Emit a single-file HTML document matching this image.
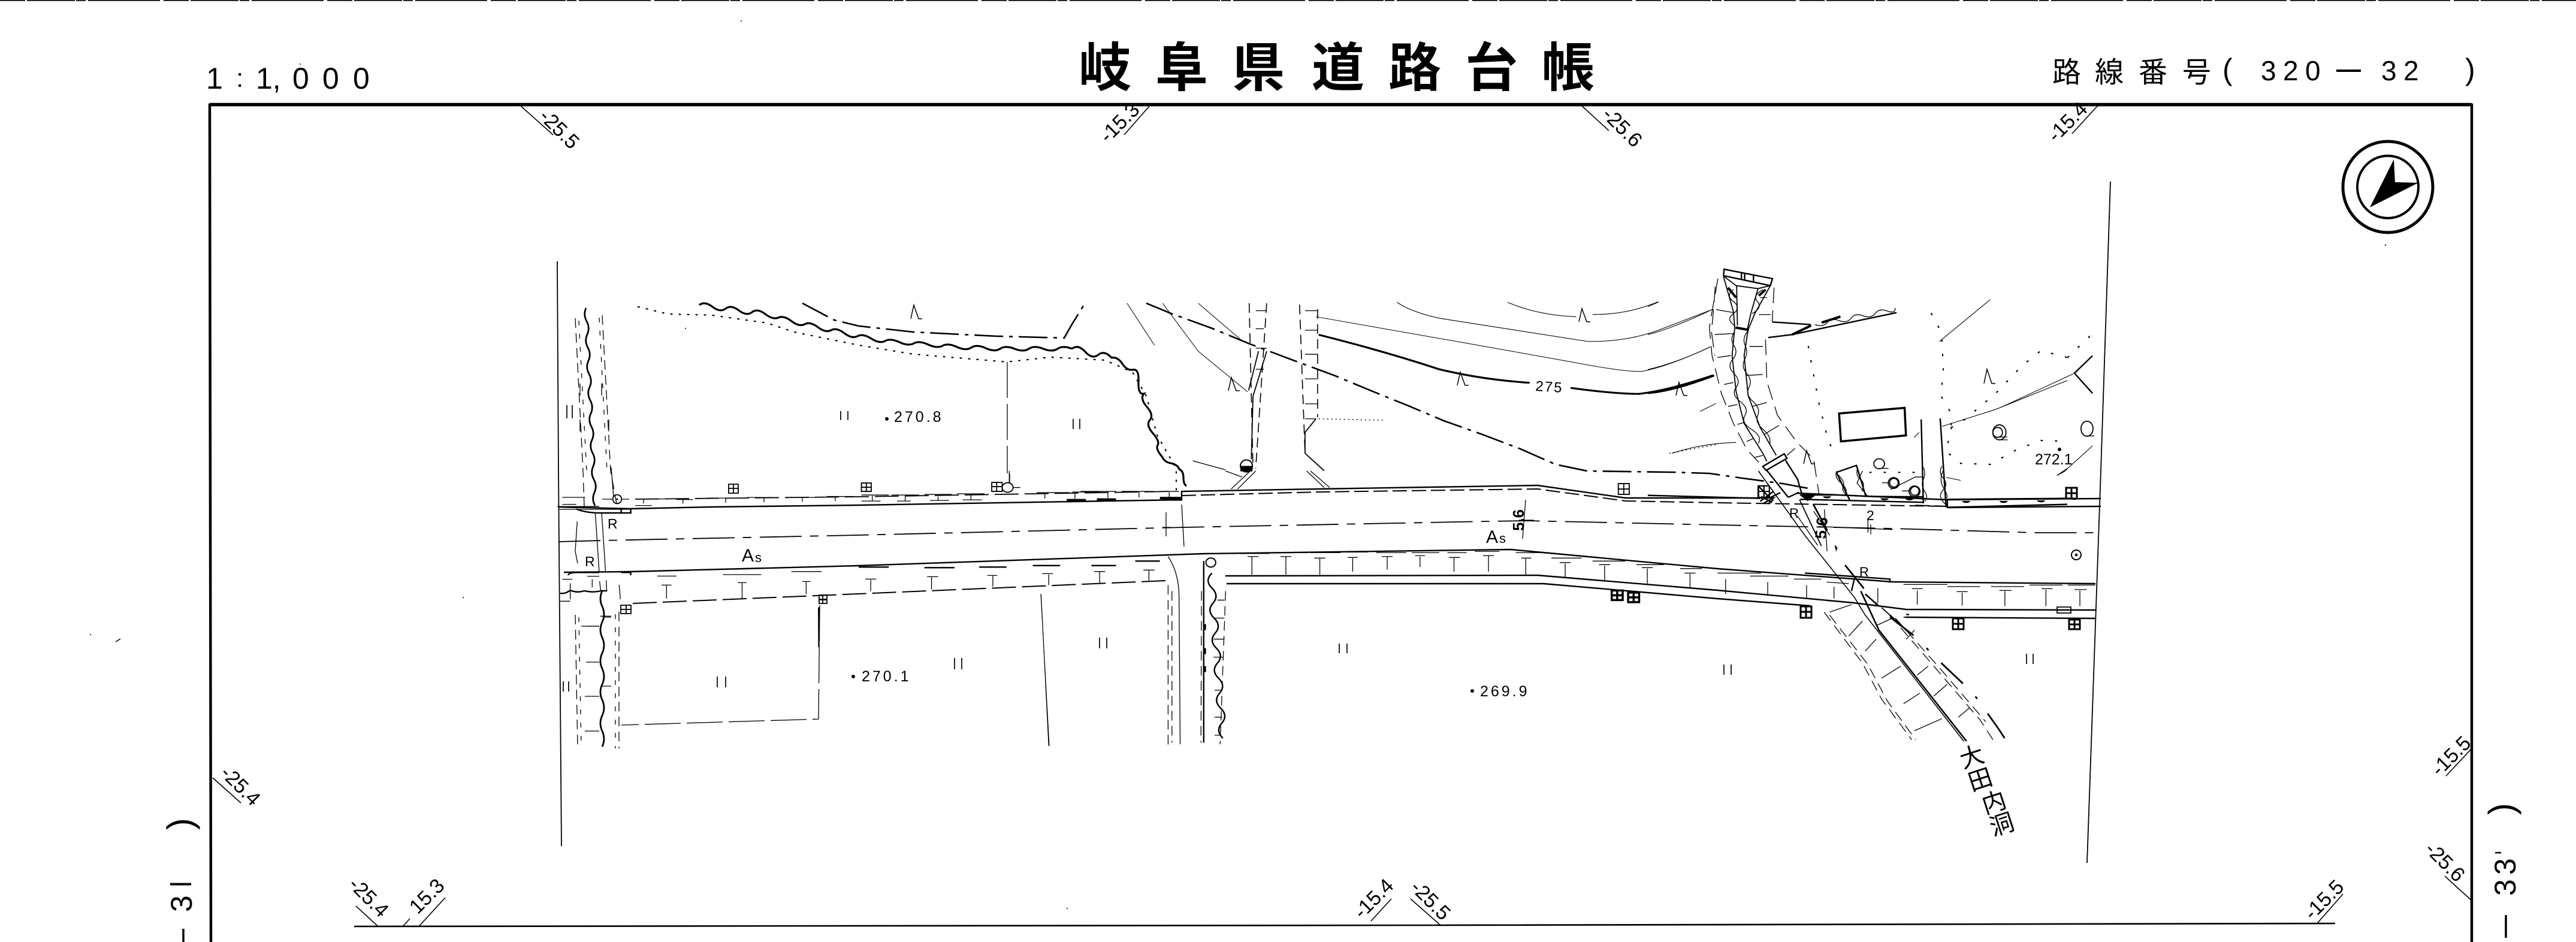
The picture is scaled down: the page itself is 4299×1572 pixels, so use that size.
<!DOCTYPE html>
<html lang="ja"><head><meta charset="utf-8"><title>岐阜県道路台帳</title>
<style>
html,body{margin:0;padding:0;background:#fff}
svg{display:block}
path,line,polyline,polygon,rect,ellipse,circle{vector-effect:non-scaling-stroke}
.t{stroke-width:1.3}.m{stroke-width:2.4}.b{stroke-width:4}
.dd{stroke-width:2.6;stroke-dasharray:48 10 6 10}
.ld{stroke-width:1.8;stroke-dasharray:70 14 14 14}
.ds{stroke-width:1.3;stroke-dasharray:16 9}
.dot{stroke-width:2.6;stroke-dasharray:2 13;stroke-linecap:round}
.dot2{stroke-width:1.4;stroke-dasharray:2 5}
text{font-family:"Liberation Sans","Noto Sans CJK JP",sans-serif;fill:#000;stroke:none}
.c{font-size:34px}.n{font-size:25px;letter-spacing:4px}
</style></head><body>
<svg xmlns="http://www.w3.org/2000/svg" width="4299" height="1572" viewBox="0 0 4299 1572" fill="none" stroke="#000" stroke-width="1.6">
<rect x="0" y="0" width="4299" height="1572" fill="#fff" stroke="none"/>
<path d="M0 .8H4299" stroke-width="1.6" stroke-dasharray="42 3 80 2 16 4 120 6"/>

<!-- frame -->
<path d="M352 1572L350 175H4125V1572" stroke-width="4.5"/>
<path d="M350 174.500H4125" stroke-width="5.500"/>
<path d="M591 1546L2400 1544L3897 1541" stroke-width="2.6"/>

<!-- title text -->
<text x="344" y="148" style="font-size:50px">1</text>
<text x="394" y="145" style="font-size:44px">:</text>
<text x="427" y="148" style="font-size:50px">1,</text>
<text x="488 538 589" y="148" style="font-size:50px">000</text>
<text x="1800 1928 2056 2189 2317 2445 2573" y="144" style="font-size:88px;font-weight:700">岐阜県道路台帳</text>
<text x="3425 3496 3569 3642" y="137" style="font-size:48px">路線番号</text>
<text x="3709" y="133" style="font-size:50px">(</text>
<text x="3773 3810 3847" y="134" style="font-size:46px">320</text>
<path d="M3899 118H3940" stroke-width="4"/>
<text x="3974 4011" y="134" style="font-size:46px">32</text>
<text x="4114" y="133" style="font-size:50px">)</text>

<!-- compass -->
<ellipse cx="3985" cy="312" rx="75" ry="76" stroke-width="5"/>
<ellipse cx="3985" cy="312" rx="51" ry="52" stroke-width="4"/>
<polygon points="3995,266 3997,304 4036,305 3955,346" fill="#000" stroke="none"/>

<!-- corner ticks -->
<path stroke-width="1.6" d="M868 176L923 225M1920 175L1876 225M2638 175L2685 218M3503 174L3458 223M355 1298L402 1340M631 1546L594 1512M699 1546L743 1498M672 1546L684 1533M2288 1537L2322 1500M2404 1544L2354 1500M3867 1541L3910 1492M4082 1295L4125 1249M4125 1503L4080 1462"/>
<g>
<text class="c" transform="translate(898,196) rotate(45)">-25.5</text>
<text class="c" transform="translate(2672,193) rotate(45)">-25.6</text>
<text class="c" transform="translate(366,1292) rotate(45)">-25.4</text>
<text class="c" transform="translate(580,1478) rotate(45)">-25.4</text>
<text class="c" transform="translate(2352,1483) rotate(45)">-25.5</text>
<text class="c" transform="translate(4045,1419) rotate(45)">-25.6</text>
<text class="c" transform="translate(1849,240) rotate(-45)">-15.3</text>
<text class="c" transform="translate(3431,239) rotate(-45)">-15.4</text>
<text class="c" transform="translate(697,1527) rotate(-45)">15.3</text>
<text class="c" transform="translate(2273,1535) rotate(-45)">-15.4</text>
<text class="c" transform="translate(3859,1537) rotate(-45)">-15.5</text>
<text class="c" transform="translate(4071,1297) rotate(-45)">-15.5</text>
</g>

<!-- margin labels -->
<text transform="translate(321,1385) rotate(-90)" style="font-size:60px">)</text>
<text transform="translate(320,1522) rotate(-90)" style="font-size:50px">3</text>
<path d="M284 1475.500H319" stroke-width="4"/>
<path d="M306 1550V1572" stroke-width="3.500"/>
<text transform="translate(4195,1360) rotate(-90)" style="font-size:60px">)</text>
<text transform="translate(4198,1495) rotate(-90)" style="font-size:50px">3</text>
<text transform="translate(4198,1460) rotate(-90)" style="font-size:50px">3</text>
<path d="M4164 1423H4174" stroke-width="2.500"/>
<path d="M4182 1527V1565" stroke-width="3.500"/>

<!-- border lines of map sheet -->
<path d="M930 436L932 786L937 1412M3522 303L3506 786L3483 1440" stroke-width="1.800"/>

<!-- ROAD -->
<path class="m" d="M932 846L1051 849L1188 846L1433 843L1972 834V820L2201 816L2566 810L2713 831L2953 831"/>
<path class="ds" stroke-width="2" style="stroke-width:2;stroke-dasharray:24 8" d="M1972 827L2200 821L2566 816L2713 836L2866 839L3250 845"/>
<path class="m" d="M3000 823L3250 834L3506 832M3250 847L3506 845"/>
<path class="ld" d="M932 904L1005 902L1433 893L1977 880L2484 870L2548 869L2866 876L3158 882L3396 889L3501 889"/>
<path class="m" d="M941 955L1051 954L1433 944L2009 924L2521 917L2866 949L3158 971L3497 974"/>
<path class="m" d="M2045 961L2566 960L2866 985L3094 1006L3181 1017L3497 1018"/>
<path class="m" d="M2047 974L2576 974L2866 999L3021 1011M3181 1030L3497 1032"/>
<path style="stroke-width:2;stroke-dasharray:40 10" d="M1056 1007L1433 991L1945 969"/>
<path style="stroke-width:1.800;stroke-dasharray:40 10" d="M1060 833L1433 829L1959 820"/>
<path class="t" d="M1972 842L1976 912M1946 855V895M1940 880H1955M2546 834L2541 899M2535 868H2560"/>

<!-- West ditch -->
<path class="m" style="stroke-width:2.800" d="M978 514q-5 11 1 22t1 22t1 22t1 22t1 22t1 22t1 22t1 22t1 22t1 22t1 22t1 22t1 22t1 22t1 22"/>
<path class="m" style="stroke-width:2.800" d="M1005 986q-6 13 0 26t0 26t0 26t0 26t0 26t0 26t0 26t0 26t0 26t0 26"/>
<path class="ds" d="M960 531L973 786L975 846M1005 526L1019 786L1030 846M960 1026L964 1247M1033 1021V1249"/>
<path class="ds" style="stroke-dasharray:8 14" d="M966 535L979 786M1000 530L1013 786M966 1030L970 1247M1027 1025V1249"/>
<g transform="translate(880,780) scale(.3333)">
<path class="t" d="M150 196H360M160 210H500M250 270L240 420L252 480M340 225L360 525M372 225L392 525M362 570L368 620M395 565L398 620M420 0L432 150"/>
<path class="m" d="M245 208Q290 228 370 228H470V208H518V228H470M205 540Q205 528 245 526H360M470 526H518V540M165 630Q190 635 215 615Q250 630 285 618Q330 628 368 618H400"/>
<path class="t" d="M175 150H290M175 185H245M175 560H225M215 580V660M165 670H215M325 560V600M300 545H360M460 588L466 660M270 795H360M420 745H365"/>
<circle cx="450" cy="159" r="22" stroke-width="1.800"/><circle cx="450" cy="159" r="2" fill="#000"/>
<path class="t" d="M473 159H510M375 159H428"/>
<path class="m" d="M1459 700L1460 900M1459 662H1500"/>
</g>

<!-- field boundaries -->
<path class="t" style="stroke-dasharray:60 10" d="M1368 1010L1366 1200L1037 1210"/>
<path class="t" style="stroke-dasharray:60 10" d="M1681 604V790M1685 790V806"/>
<path style="stroke-width:1.100" d="M1737 991L1751 1245"/>

<!-- Road crossing ditch (x~2000) -->
<g transform="translate(1433,786) scale(.914,.501)">
<path class="t" d="M565 285Q585 340 585 420L587 910"/>
<path class="m" d="M630 300V905"/>
<path class="ds" d="M565 380V915M572 400V905M670 400L660 910M626 400L625 905"/>
<path class="m" d="M645 340q-14 25 0 50t2 50t2 50t2 50t2 50t2 50t2 50t2 50t2 50t2 50t2 50"/>
<path class="t" d="M655 430H668M650 490H668M648 560H668M648 620H665M650 730H664M650 820H664M650 880H660"/>
<path class="b" d="M555 95H590M632 510V530M632 590V610M632 650V670"/>
<!-- South T marks -->
<path class="t" d="M710 285H730M718 285V345M770 285H790M780 285V345M832 290H852M842 290V345M893 288H911M902 290V335M955 285H975M965 285V328M1016 282H1034M1025 285V320M1078 288H1098M1087 288V335M1140 282H1160M1150 282V335M1210 290H1228M1218 292V345M1280 305H1300M1290 308V355M1352 312H1372M1362 315V365M1430 322H1450M1440 325V375M1508 340H1528M1518 342V390"/>
<path class="t" d="M695 275H750M760 272H820M825 272H880M890 270H930M945 272H1000M1010 272H1060M1075 272H1110M1125 268H1170M1200 272H1250M1265 290H1320M1340 300H1400M1420 312H1470M1500 325H1540"/>
<path class="t" d="M12 360H32M22 362V400M125 352H145M133 352V395M235 348H253M245 348V385M335 342H355M347 345V380M430 335H450M440 335V375M520 330H540M530 332V365"/>
<path class="m" d="M0 320H55M120 322H175M220 320H270M318 315H368M425 315H470M505 300H550"/>
<!-- North row -->
<path class="t" d="M5 80H55M5 100H40M60 80H110M70 100H95M120 78H170M130 98H165M180 76H230M190 96H225M25 82V100M85 85V100M145 85V98M205 75V95M325 72H385M340 72V92M390 70H440M395 70V92M405 68H470M455 70V90M480 68H540M512 70V88M550 68H585M567 70V90"/>
<path class="b" d="M380 97H415M435 95H470M550 90H590"/>
<!-- grid symbols -->
<g stroke-width="1.800">
<path d="M1387 42h20v36h-20zM1397 42v36M1387 60h20M5 40h18v28h-18zM14 40v28M5 54h18M243 38h19v30h-19zM252 38v30M243 52h19"/>
</g>
<g stroke-width="3.500">
<path d="M1375 398h20v32h-20zM1385 398v32M1375 414h20M1405 405h20v32h-20zM1415 405v32M1405 421h20"/>
</g>
<ellipse cx="272" cy="55" rx="10" ry="16" stroke-width="1.800"/>
<ellipse cx="643" cy="305" rx="9" ry="15" stroke-width="2"/>
<path class="t" d="M282 55H295M275 0V38M680 60L715 0M692 60L725 0M860 55L825 0M850 55L818 0M670 0L700 20"/>
<path class="t" style="stroke-width:1.100" d="M333 410L347 915"/>
</g>

<!-- NW dotted -->
<path class="dot" style="stroke-width:2.200;stroke-dasharray:2 12" d="M1065 512L1115 524L1188 526L1280 539L1325 554L1433 576L1524 591L1680 604L1753 596L1844 601L1890 621L1913 661L1931 726L1963 782V818"/>
<!-- NW thick wavy -->
<path style="stroke-width:3.200" d="M1167 509q9 -7 22 3t22 3t22 3t22 3t22 3t22 6t22 6t22 5t22 5t22 5t22 5t22 5t23 4t23 4t24 2t24 2t24 2t24 2t24 2t24 1t24 1t24 1t24 0t24 0t24 0t24 0t24 0"/>
<path style="stroke-width:3.200" d="M1789 582q10 -8 22 5t22 5t22 5q10 -2 18 10t18 10q10 -2 9 20t9 20q-7 8 5 22t5 22t5 22t8 20t8 20q3 8 14 10t14 10q7 3 7 14t5 14"/>
<!-- NW dash dot -->
<path class="dd" d="M1339 506L1392 534L1433 544L1524 554L1662 561L1776 564L1789 541L1812 504"/>
<path class="dd" d="M1913 506L1954 523L2023 548L2086 574L2155 600L2228 627L2288 652L2350 677L2409 702L2471 724L2537 749L2596 775L2649 786L2792 788L2853 790L2908 798L2975 807L3018 815"/>

<g transform="translate(1433,0) scale(.914,.501)">
<!-- contours -->
<path class="t" style="stroke-width:1.100" d="M983 1007Q1010 1040 1060 1060L1330 1137Q1400 1140 1460 1100L1560 1030"/>
<path class="t" style="stroke-width:1.100" d="M1185 1007Q1240 1050 1310 1055M1340 1047Q1400 1050 1460 1005"/>
<path style="stroke-width:1" d="M835 1055L1100 1140L1300 1205Q1400 1240 1430 1237Q1480 1220 1555 1155"/>
<path style="stroke-width:3.200" d="M840 1115Q960 1170 1060 1230Q1140 1265 1225 1275M1300 1292Q1380 1312 1425 1312Q1480 1300 1560 1250"/>
<path style="stroke-width:1" d="M555 1010L620 1170L710 1305M490 1010L540 1150M620 1010L700 1135"/>
<path class="dot2" d="M1480 1510L1568 1480M840 1395L960 1400"/>
<!-- N road -->
<path class="ds" style="stroke-width:1.600" d="M713 1010L720 1560M745 1010L725 1560M805 1015L815 1510M838 1030V1390"/>
<path class="m" style="stroke-width:1.800" d="M745 1170L720 1320L717 1530M835 1395L815 1440V1510L850 1568M730 1170L712 1300"/>
<path class="t" d="M725 1035H745M725 1095H740M725 1160H745M725 1230H740M815 1035H838M815 1100H838M815 1180H838M815 1262H838M815 1345H838M815 1395H835"/>
<path class="t" d="M610 1535L670 1565"/>
<ellipse cx="708" cy="1552" rx="11" ry="20" stroke-width="2"/>
<path d="M697 1552H719V1570H697z" fill="#000" stroke="none"/>
</g>

<!-- tree marks -->
<path stroke-width="1.500" d="M1520 532l5 -23l8 23h6M2050 652l5 -22l8 22h6M2432 643l5 -22l8 22h6M2635 537l5 -22l8 22h6M2797 660l5 -22l8 22h6M3311 640l5 -24l8 24h6M3010 774l5 -22l8 22h6"/>
<!-- II marks -->
<path stroke-width="1.700" d="M946 676v22m9 0v-22M1403 686v15m12 0v-15M1791 699v17m11 0v-17M1197 1129v18m14 0v-18M940 1137v17m9 0v-17M1593 1098v19m12 0v-19M1835 1064v18m12 0v-18M2235 1074v16m13 0v-16M2877 1109v17m12 0v-17M3382 1091v17m11 0v-17"/>

<!-- grid symbols real coords -->
<g stroke-width="1.800">
<path d="M1216 808h16v15h-16zM1224 808v15M1216 815h16M1036 1010h17v14h-17zM1045 1010v14M1036 1017h17M1367 993h13v14h-13zM1373 993v14M1367 1000h13M2935 811h18v19h-18zM2944 811v19M2935 820h18"/>
</g>
<g stroke-width="3">
<path d="M3448 814h18v18h-18zM3457 814v18M3448 823h18M3005 1012h18v19h-18zM3014 1012v19M3005 1021h18M3259 1032h18v18h-18zM3268 1032v18M3259 1041h18M3453 1034h18v16h-18zM3462 1034v16M3453 1042h18"/>
</g>
<circle cx="3465" cy="926" r="8" stroke-width="2"/><circle cx="3465" cy="926" r="1.500" fill="#000"/>
<rect x="3433" y="1013" width="23" height="10" stroke-width="1.800"/>

<!-- zoom 4 T marks (west south / north) -->
<g transform="translate(0,786) scale(.914,.501)">
<path class="t" d="M1208 380H1226M1217 380V425M1347 372H1363M1355 372V425M1465 368H1480M1472 368V410"/>
<path class="t" d="M1200 350H1235M1320 345H1390M1445 335H1500"/>
<path class="t" d="M1165 93H1220M1160 115H1190M1175 95V108M1235 95H1265M1247 96V108M1290 90H1345M1325 92V106M1365 88H1412M1395 90V104M1440 88H1490M1465 90V102M1510 85H1560M1525 88V100"/>
</g>
<!-- Ditch hatches west -->
<path class="t" d="M968 640v20M1004 640v20M968 700v20M1016 700v20M1008 1030H1020M978 1045H1000M978 1105H1000M1005 1145H1020M976 1162H1000M976 1220H1000"/>

<!-- Culvert north -->
<g transform="translate(2750,420) scale(.4464,.3333)">
<path class="m" d="M285 88L466 135L458 170L283 120ZM350 105V138M362 110V142M395 120V150"/>
<path class="m" style="stroke-width:1.800" d="M283 122L330 170L412 185L458 170M332 170L335 370M412 185L385 310L372 390M283 125L320 300L325 380M458 170L400 310L375 390"/>
<path class="b" d="M328 380L378 392M300 180L330 230M415 220L440 190"/>
<path class="t" d="M320 190q-30 30 0 60t0 60t5 60M430 190q-40 30 -20 60t-20 60"/>
<path class="m" style="stroke-width:1.800" d="M325 380L315 520L330 700L360 860L430 1010L445 1050M375 390L360 520L375 720L420 880L480 1020"/>
<path class="t" d="M325 400q-20 35 -3 70t-5 70t5 70t8 70t15 70t18 70t25 70t25 70M372 400q-20 35 -8 70t-2 70t8 70t8 70t15 70t18 70t20 70t25 70"/>
<path class="ds" style="stroke-dasharray:26 12" d="M262 135L240 300L230 380L240 520L275 710L320 860L370 990L415 1055M252 175L245 300L238 400L250 520M472 180L465 350M440 440L445 650L485 820L555 950L620 1040L640 1215"/>
<path class="t" d="M255 290L320 305M250 415L320 410M260 530L310 520M285 665L320 655M300 775L335 765M335 865L360 855M370 950L395 935M400 1030L430 1020M445 230H420M460 315H415M430 475H380M430 615L365 620M445 755L390 775M490 870L435 915M550 985L520 1020"/>
<path class="m" d="M430 1075L510 1012L520 1035L442 1095ZM445 1095L525 1230M515 1045L560 1140L575 1210M525 1230L565 1205"/>
<path class="m" d="M465 352L610 365M450 430L540 415L930 305"/>
<path class="b" d="M540 415L610 370M650 355L720 325"/>
<path class="t" d="M625 365q30 15 45 -10t45 -10t45 -12t45 -12t45 -12t45 -12t30 -15"/>
<path class="t" style="stroke-width:1.100" d="M1090 450L1280 240"/>
<path class="dot" style="stroke-width:2.200;stroke-dasharray:2 22" d="M600 475L640 760L675 950L705 1020M1060 310L1090 385L1100 450L1105 600L1095 720L1130 800L1135 880M1135 880L1185 840L1300 710L1400 570L1470 495L1568 530M1135 880L1115 1000L1170 1060L1280 1065L1380 990L1470 945L1568 950M830 1105H1030"/>
<path style="stroke-width:1.100" d="M1100 875L1300 790L1568 645M195 800L255 760M90 1010Q200 960 330 955M995 930L1015 905M1530 1120L1568 1085M1115 1130L1170 1145"/>
<path style="stroke-width:1.100" d="M0 415Q80 390 232 295M0 590Q100 560 232 478M0 275L40 252"/>
<path class="b" style="stroke-width:3.200" d="M0 708Q90 700 248 620"/>
<path style="stroke-width:3.500" d="M715 810L960 782L965 920L722 950Z"/>
<path class="m" d="M1022 840L1030 1260M1093 835L1115 1280"/>
<path class="t" d="M1030 1080q10 30 0 60t5 60t0 50M1100 1075q-15 30 5 60t-2 60t10 70"/>
<path class="m" d="M705 1105L780 1070L815 1225L1030 1228M705 1105L755 1245M570 1240L1030 1255M570 1218H705"/>
<path class="t" d="M710 1115q30 40 20 60t25 60M785 1080q-10 40 10 60t5 60"/>
<path class="m" d="M0 1220L420 1235M1115 1240L1568 1235M1118 1280L1568 1265"/>
<path style="stroke-width:2;stroke-dasharray:24 8" d="M1000 1270L1120 1275"/>
<path d="M655 1225a15 10 0 0 0 30 0zM870 1235a15 10 0 0 0 30 0zM963 1235a15 10 0 0 0 30 0zM1175 1248a15 10 0 0 0 30 0zM1315 1248a15 10 0 0 0 30 0zM1455 1245a15 10 0 0 0 30 0z" fill="#000" stroke="none"/>
<path d="M570 1215H615L600 1245Z" fill="#000" stroke="none"/>
<ellipse cx="865" cy="1062" rx="20" ry="25" stroke-width="1.800"/>
<path class="t" d="M865 1085H900"/>
<ellipse cx="1308" cy="905" rx="18" ry="25" stroke-width="1.800"/>
<path class="t" d="M1308 928H1343"/>
<ellipse cx="920" cy="1157" rx="16" ry="22" stroke-width="1.800"/>
<ellipse cx="998" cy="1198" rx="16" ry="22" stroke-width="1.800"/>
<path class="t" d="M875 1157H903M950 1198H982M908 1190L1000 1128H1030"/>
<path class="m" d="M412 1232H470L430 1262M470 1200L420 1250M450 1262L470 1240"/>
<rect x="412" y="1172" width="42" height="58" stroke-width="1.800"/>
<path class="t" d="M433 1172V1230M412 1200H454"/>
<path class="t" d="M560 1325L635 1470M660 1290L670 1500M620 1300L680 1420M700 1470L705 1500"/>
</g>
<!-- NE extras zoom3 -->
<g transform="translate(2866,0) scale(.914,.501)">
<path class="dot" style="stroke-width:2.200;stroke-dasharray:2 22" d="M640 1190L680 1120"/>
<path class="m" d="M685 1185L652 1243L685 1310"/>
<path style="stroke-width:1.100" d="M520 1355L650 1245M635 1568L685 1485"/>
<ellipse cx="515" cy="1440" rx="12" ry="25" stroke-width="1.800"/><path class="t" d="M515 1465H530"/>
<ellipse cx="675" cy="1428" rx="11" ry="25" stroke-width="1.800"/><path class="t" d="M675 1452H688"/>
</g>

<!-- South stream -->
<g transform="translate(2866,786) scale(.914,.501)">
<path class="m" style="stroke-width:1.600" d="M75 0L160 215L250 420L270 480L360 690L450 900"/>
<path style="stroke-width:2.600" d="M262 400L295 530L455 900"/>
<path class="m" style="stroke-width:1.800" d="M150 95L190 250M300 455L345 530M340 487H360"/>
<path class="ds" style="stroke-dasharray:18 10" d="M195 470L265 640L300 760L355 895M315 480L400 660L480 830L505 900M205 480L275 645L310 765L362 895M325 490L410 665L490 835"/>
<path class="t" d="M205 470L245 445M240 550L265 500M270 600L290 560M300 690L335 650M340 775L370 740M360 865L410 825M320 490L290 515M345 560L360 530M385 650L365 680M395 750L420 710M440 820L460 790"/>
<path class="m" d="M160 340L315 360V372M250 360L245 400"/>
<path class="t" d="M0 340H80M60 350H130M140 360H190M200 370L240 375M340 378H420M420 385H480M500 385H560M570 380H630M640 380H690"/>
<path class="t" d="M15 360V410M92 370V412M163 380V425M213 385V425M293 390V440M365 398V445M447 405V448M525 400V450M600 395V450M662 398V450M355 392H375M437 402H457M515 398H537M592 392H612M652 395H674"/>
<path d="M150 80H180L165 100Z" fill="#000" stroke="none"/>
<path d="M645 92a8 8 0 0 0 14 0z" fill="#000" stroke="none"/>
<path class="t" d="M620 15L635 0"/>
<ellipse cx="322" cy="40" rx="10" ry="18" stroke-width="1.800"/>
<ellipse cx="360" cy="68" rx="10" ry="18" stroke-width="1.800"/>
<path class="t" d="M265 85L375 85M265 0L255 40L275 85M375 0V95"/>
<path class="t" d="M218 0q-5 20 8 40t8 40M412 0q-8 30 2 60t2 30"/>
<path class="m" d="M420 95V120M350 478H345"/>
<path class="dd" style="stroke-width:2.800;stroke-dasharray:50 30 5 30" d="M175 110L210 230L233 313L300 465L360 550L412 645L467 740L512 855L530 905"/>
<path class="b" style="stroke-width:2.600" d="M270 410L295 450M315 480L345 530"/>
<path class="t" d="M275 160V205M185 185L320 195"/>
<path class="m" d="M75 50L95 88M95 90L115 72M100 105L80 85"/>
</g>

<!-- Text labels on map -->
<circle cx="1480" cy="699" r="3" fill="#000" stroke="none"/>
<text class="n" x="1492" y="704">270.8</text>
<circle cx="1424" cy="1129" r="3" fill="#000" stroke="none"/>
<text class="n" x="1438" y="1137">270.1</text>
<circle cx="2457" cy="1153" r="3" fill="#000" stroke="none"/>
<text class="n" x="2470" y="1162">269.9</text>
<circle cx="3437" cy="750" r="3" fill="#000" stroke="none"/>
<text x="3396" y="775" style="font-size:25px">272.1</text>
<text transform="translate(2562,652) rotate(4)" style="font-size:24px;letter-spacing:2px">275</text>
<text x="1238" y="937" style="font-size:30px">A</text><text x="1260" y="938" style="font-size:22px">s</text>
<text x="2480" y="906" style="font-size:30px">A</text><text x="2502" y="906" style="font-size:22px">s</text>
<text x="1014" y="882" style="font-size:23px">R</text>
<text x="976" y="945" style="font-size:23px">R</text>
<text x="2986" y="864" style="font-size:22px">R</text>
<text x="3103" y="962" style="font-size:22px">R</text>
<text x="3115" y="868" style="font-size:23px">2</text>
<path class="t" d="M3122 875V892"/>
<text transform="translate(2543,886) rotate(-90)" style="font-size:26px;font-weight:700">5.6</text>
<text transform="translate(3047,900) rotate(-85)" style="font-size:26px;font-weight:700">5.6</text>
<text transform="translate(3291,1264) rotate(-18)" text-anchor="middle" dy="13" style="font-size:40px">大</text>
<text transform="translate(3305,1302) rotate(-18)" text-anchor="middle" dy="13" style="font-size:40px">田</text>
<text transform="translate(3328,1340) rotate(-18)" text-anchor="middle" dy="13" style="font-size:40px">内</text>
<text transform="translate(3341,1377) rotate(-18)" text-anchor="middle" dy="13" style="font-size:40px">洞</text>

<!-- specks -->
<path stroke-width="1.500" d="M500 107h2M1236 35h2M1143 548h2M193 1071l8 -5M150 1059h2M772 997h2M3980 410l2 -2M1780 1516h2"/>
</svg>
</body></html>
